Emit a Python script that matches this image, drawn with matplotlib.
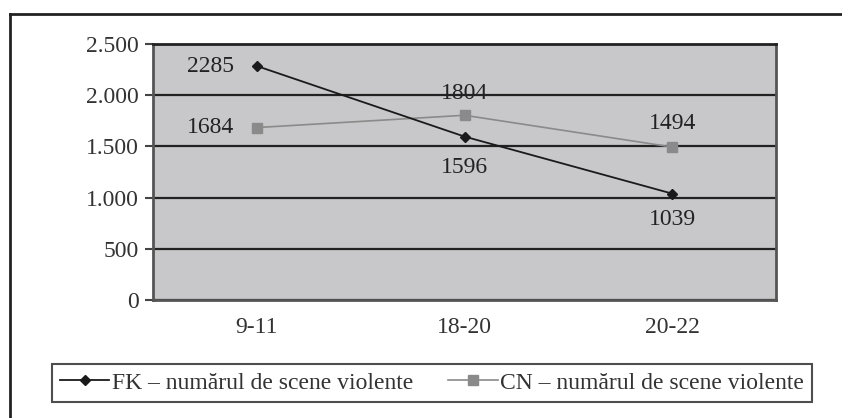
import matplotlib.pyplot as plt
from matplotlib.lines import Line2D
from matplotlib.ticker import FuncFormatter

categories = ['9-11', '18-20', '20-22']
fk_values = [2285, 1596, 1039]
cn_values = [1684, 1804, 1494]
fk_label = 'FK \u2013 numărul de scene violente'
cn_label = 'CN \u2013 numărul de scene violente'

plt.rcParams['font.family'] = ['Liberation Serif', 'DejaVu Serif']
FS = 17

fig = plt.figure(figsize=(8.42, 4.18), dpi=100)
W, H = 842, 418
ax = fig.add_axes([153 / W, 1 - 300 / H, (776 - 153) / W, (300 - 44) / H])
ax.set_facecolor('#c8c8ca')

x = list(range(len(categories)))
ax.plot(x, cn_values, color='#8a8a8a', lw=1.2, marker='s', ms=7, zorder=3)
ax.plot(x, fk_values, color='#1a1a1a', lw=1.3, marker='D', ms=5, zorder=4)

# etichete de date (decalaj in puncte)
offsets_fk = [(-33, 0), (0, -22), (0, -19)]
offsets_cn = [(-33, 0), (0, 16), (0, 17)]
for i, v in enumerate(fk_values):
    dx, dy = offsets_fk[i]
    ax.annotate(str(v), (i, v), xytext=(dx, dy), textcoords='offset points',
                ha='center', va='center', fontsize=FS, color='#222')
for i, v in enumerate(cn_values):
    dx, dy = offsets_cn[i]
    ax.annotate(str(v), (i, v), xytext=(dx, dy), textcoords='offset points',
                ha='center', va='center', fontsize=FS, color='#222')

ax.set_xlim(-0.5, 2.5)
ax.set_ylim(0, 2500)
ax.set_yticks(range(0, 2501, 500))
ax.yaxis.set_major_formatter(FuncFormatter(lambda v, p: f'{int(v):,}'.replace(',', '.')))
ax.set_xticks(x)
ax.set_xticklabels(categories)
ax.grid(axis='y', color='#222', lw=1.6)
ax.set_axisbelow(True)
ax.tick_params(axis='y', length=6, width=1.5, color='#444', labelsize=FS, pad=4, labelcolor='#333')
ax.tick_params(axis='x', length=0, labelsize=FS, pad=12, labelcolor='#333')
for s in ['left', 'bottom', 'right']:
    ax.spines[s].set_color('#555')
    ax.spines[s].set_linewidth(2)
ax.spines['top'].set_color('#222')
ax.spines['top'].set_linewidth(2)

handles = [Line2D([], [], color='#1a1a1a', marker='D', ms=5, lw=1.3),
           Line2D([], [], color='#8a8a8a', marker='s', ms=7, lw=1.2)]
leg = fig.legend(handles, [fk_label, cn_label], loc='center',
                 bbox_to_anchor=(432 / W, 1 - 383 / H), ncol=2, fontsize=FS,
                 frameon=True, fancybox=False, edgecolor='#222',
                 handlelength=2.1, handletextpad=0.1, columnspacing=1.5,
                 borderpad=0.35, borderaxespad=0)
leg.get_frame().set_linewidth(1.5)
for t in leg.get_texts():
    t.set_color('#333')

# chenarul exterior
fig.add_artist(Line2D([10 / W, 10 / W], [0, 1 - 14 / H], color='#222', lw=2))
fig.add_artist(Line2D([10 / W, 1], [1 - 14 / H, 1 - 14 / H], color='#222', lw=2))

fig.savefig('out.png', dpi=100)
